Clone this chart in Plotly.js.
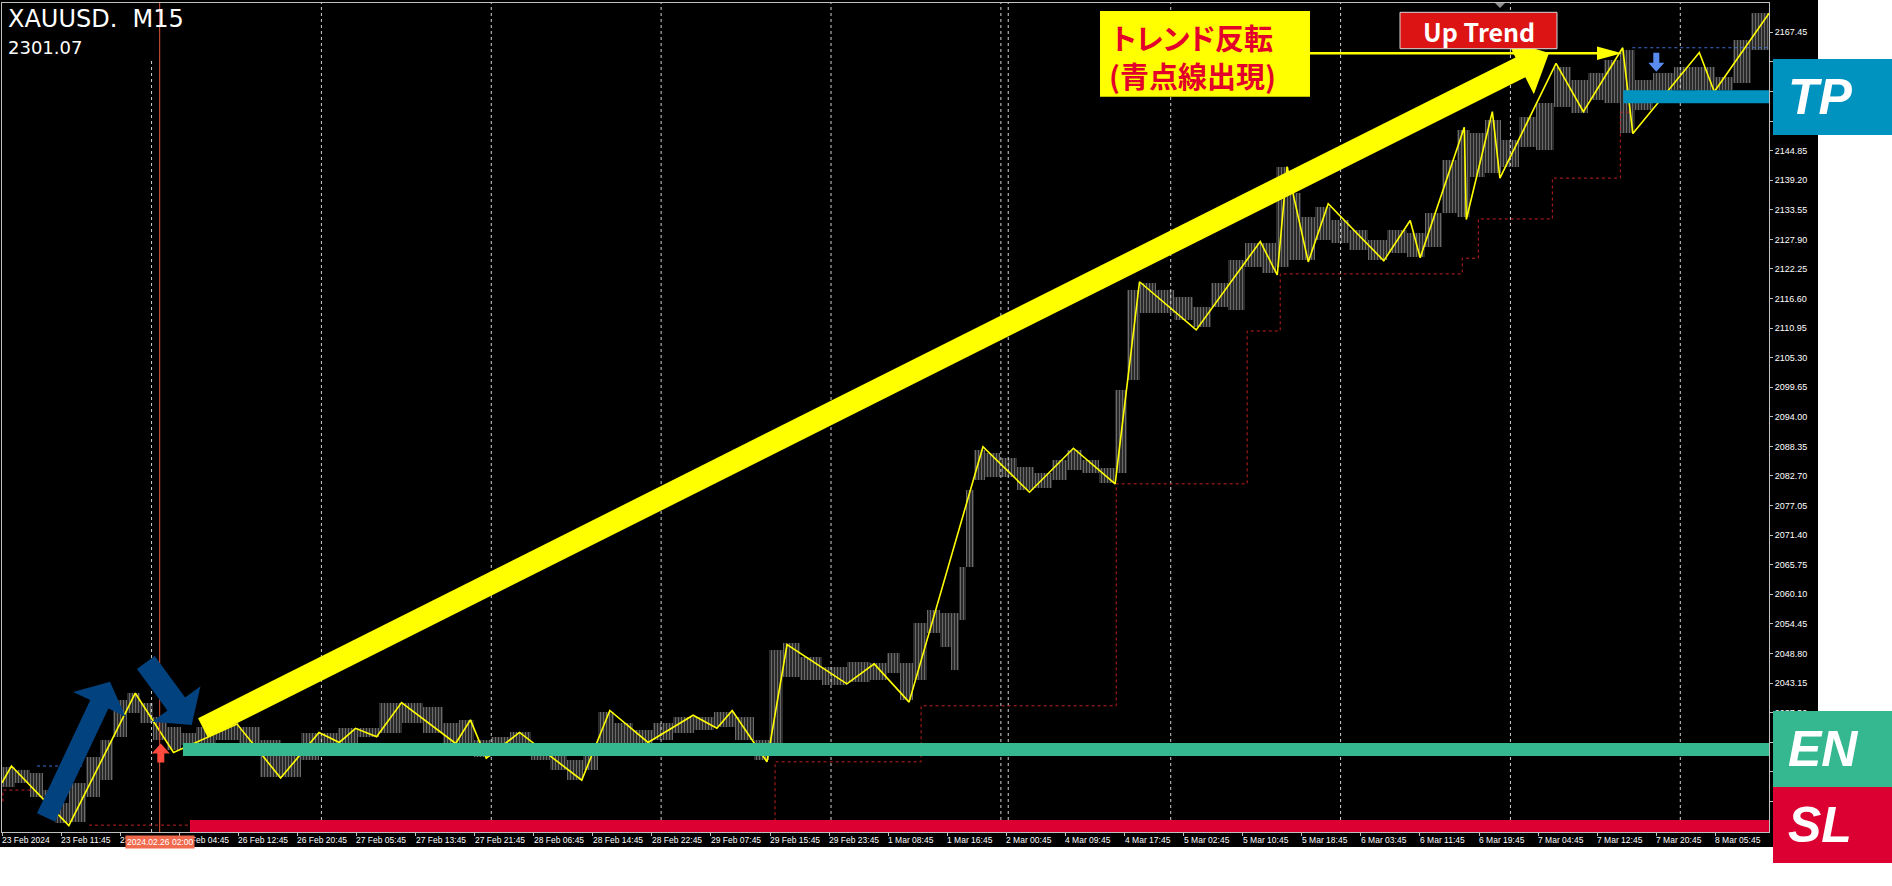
<!DOCTYPE html>
<html>
<head>
<meta charset="utf-8">
<script src="https://cdn.plot.ly/plotly-3.0.1.min.js"></script>
<style>
html,body{margin:0;padding:0;background:#ffffff;}
#chart{width:1892px;height:886px;}
.annotation-text{font-feature-settings:"palt";}
</style>
</head>
<body>
<div id="chart"></div>
<script>
// ---------------- DATA ----------------
const xTickBars = [0,32,64,96,128,160,192,224,256,288,320,352,384,416,448,480,512,544,576,608,640,672,704,736,768,800,832,864,896,928];
const xTickText = ['23 Feb 2024','23 Feb 11:45','23 Feb 19:45','26 Feb 04:45','26 Feb 12:45','26 Feb 20:45','27 Feb 05:45','27 Feb 13:45','27 Feb 21:45','28 Feb 06:45','28 Feb 14:45','28 Feb 22:45','29 Feb 07:45','29 Feb 15:45','29 Feb 23:45','1 Mar 08:45','1 Mar 16:45','2 Mar 00:45','4 Mar 09:45','4 Mar 17:45','5 Mar 02:45','5 Mar 10:45','5 Mar 18:45','6 Mar 03:45','6 Mar 11:45','6 Mar 19:45','7 Mar 04:45','7 Mar 12:45','7 Mar 20:45','8 Mar 05:45'];
const yTickVals = [2020.55,2026.20,2031.85,2037.50,2043.15,2048.80,2054.45,2060.10,2065.75,2071.40,2077.05,2082.70,2088.35,2094.00,2099.65,2105.30,2110.95,2116.60,2122.25,2127.90,2133.55,2139.20,2144.85,2150.50,2156.15,2161.80,2167.45];
const daySeparatorBars = [81,173,265,357,449,541,545,633,725,817,909];

// price bars (sampled high / low)
const priceBars = [2.7,11.1,19.2,25.2,32.2,40.9,49.6,56.6,63.9,71.2,78.3,85.6,92.9,100.5,109.7,121.9,134.3,145.4,156.6,166.8,177.1,187.4,198.0,210.5,222.6,233.7,243.5,251.6,260.0,269.8,280.9,292.0,301.5,310.4,318.8,326.4,336.1,347.2,358.1,369.2,380.3,391.4,402.5,412.0,419.0,427.1,437.7,450.4,464.8,475.6,482.9,490.0,497.3,504.6,511.6,516.5,520.3,524.4,528.7,536.0,545.2,554.2,563.9,573.1,580.4,589.4,598.9,606.2,612.4,620.3,629.7,640.0,650.3,659.5,668.7,678.0,686.6,693.7,700.2,707.2,715.3,724.5,734.8,745.1,755.7,766.3,775.5,784.7,791.7,798.8,807.4,816.6,826.4,835.6,845.1,854.3,863.2,872.4,880.6,888.7,899.3,912.0,923.3,932.6,942.0,952.3];
const priceHigh = [2027.1,2026.5,2026.0,2022.7,2020.2,2024.1,2029.0,2032.3,2039.9,2041.2,2039.3,2036.7,2034.8,2033.6,2034.8,2035.5,2034.8,2032.3,2030.9,2033.6,2033.6,2034.6,2034.6,2039.3,2039.3,2038.6,2035.5,2036.1,2032.3,2032.8,2033.8,2031.7,2029.8,2028.4,2031.7,2037.6,2035.5,2034.2,2035.5,2036.7,2036.7,2037.6,2036.7,2032.3,2049.5,2050.8,2048.1,2046.2,2047.2,2047.0,2048.9,2047.0,2054.6,2057.1,2056.5,2056.5,2065.3,2080.0,2087.7,2087.1,2086.1,2084.4,2083.3,2085.8,2087.7,2085.8,2084.2,2099.1,2118.2,2119.6,2118.2,2116.9,2115.0,2119.6,2124.0,2127.2,2127.2,2141.7,2136.8,2132.2,2134.1,2131.6,2129.7,2127.8,2129.7,2129.1,2132.9,2143.1,2148.8,2148.2,2150.7,2146.9,2151.3,2154.0,2160.8,2158.3,2159.7,2162.2,2164.1,2158.3,2159.7,2160.8,2160.8,2158.9,2166.0,2171.1];
const priceLow = [2023.3,2024.1,2021.4,2019.9,2016.4,2016.6,2021.4,2024.6,2032.8,2037.4,2035.5,2032.3,2030.4,2031.3,2030.9,2032.3,2031.3,2025.2,2025.2,2028.4,2031.3,2031.7,2032.8,2033.6,2035.5,2033.6,2031.7,2031.7,2029.0,2029.8,2030.9,2028.4,2026.5,2024.6,2026.5,2030.9,2030.9,2030.9,2032.3,2033.6,2034.2,2034.8,2032.3,2028.4,2030.9,2044.3,2043.7,2042.8,2043.3,2043.7,2045.1,2039.9,2043.7,2052.7,2050.0,2045.6,2055.2,2065.3,2081.9,2082.5,2082.5,2080.0,2080.4,2081.9,2083.8,2083.3,2081.4,2083.3,2101.0,2113.8,2113.8,2112.5,2111.2,2115.0,2114.4,2122.6,2121.5,2122.6,2124.0,2124.0,2127.8,2127.2,2125.9,2124.0,2125.3,2124.5,2126.4,2132.9,2132.2,2139.8,2140.6,2141.7,2145.5,2145.0,2153.2,2152.0,2154.5,2154.0,2148.2,2152.6,2155.9,2156.4,2155.9,2156.4,2157.8,2164.1];

// zigzag swing points
const zzBars = [0,5.1,21.7,36.2,72.2,92.9,127.3,150.9,171.7,182.7,191.5,202.9,216.4,245.7,253.7,262.3,280.3,314.0,329.2,349.9,374.3,387.2,395.5,414.3,425.2,457.6,472.4,491.3,531.3,556.5,580.3,602.9,616.1,646.8,681.5,690.7,696.0,707.5,718.3,748.4,762.7,768.1,792.0,793.1,807.2,811.3,841.7,856.5,877.8,883.3,919.3,927.4,957.1];
const zzPrices = [2024.1,2027.3,2021.2,2015.9,2041.2,2029.9,2035.3,2025.0,2033.7,2031.8,2034.5,2032.9,2039.4,2031.6,2036.1,2028.8,2033.7,2024.6,2037.9,2031.8,2037.0,2034.5,2037.9,2028.1,2050.5,2043.0,2046.8,2039.5,2088.3,2079.6,2088.0,2081.2,2119.8,2110.6,2127.5,2121.1,2141.8,2123.6,2134.7,2123.8,2131.5,2124.4,2149.3,2131.7,2152.3,2139.6,2161.5,2152.3,2164.5,2148.1,2163.6,2156.1,2171.1];

// trailing stop (red dotted steps)
const stopBars = [47.1,418.7,497.8,603.5,674.4,692.3,790.9,799.6,839.7,876.5,883.0];
const stopPrices = [2016.0,2028.1,2038.8,2081.2,2110.4,2121.3,2124.3,2131.8,2139.6,2152.2,2152.2];
const prevStopBars = [0.5,0.5,17.9];
const prevStopPrices = [2020.5,2022.7,2022.7];

// blue dotted swing-high levels
const blueLevelStart = [19.0,883.0];
const blueLevelEnd = [43.9,957.0];
const blueLevelPrice = [2027.3,2164.5];

// signal arrows
const signalBars = [86.0,896.0];
const signalPrices = [2031.6,2159.9];
const signalDirs = ['up','down'];

// trade levels
const levelNames = ['TP','EN','SL'];
const levelPrices = [2155.13,2030.45,2015.84];
const levelStartBars = [878.1,98.0,101.8];
const levelColors = ['#0093c0','#35b78f','#dc0032'];

const cursorBar = 85.4;
const cursorLabel = '2024.02.26 02:00';

// ---------------- HELPERS ----------------
const PL=2, PT=3, PW=1767, PH=829;
const pxp = x => (x-PL)/PW;
const pyp = y => 1-(y-PT)/PH;
function poly(pts){ return 'M' + pts.map(p=>pxp(p[0]).toFixed(5)+','+pyp(p[1]).toFixed(5)).join(' L') + ' Z'; }
function arrowPts(tx,ty,hx,hy,sw,hw,hl){
  const dx=hx-tx, dy=hy-ty, L=Math.hypot(dx,dy), ux=dx/L, uy=dy/L, nx=-uy, ny=ux;
  const bx=hx-ux*hl, by=hy-uy*hl;
  return [[tx+nx*sw,ty+ny*sw],[bx+nx*sw,by+ny*sw],[bx+nx*hw,by+ny*hw],[hx,hy],[bx-nx*hw,by-ny*hw],[bx-nx*sw,by-ny*sw],[tx-nx*sw,ty-ny*sw]];
}
const AXF = '"Liberation Sans", Arial, sans-serif';
const CJK = '"Noto Sans CJK JP", "Noto Sans", sans-serif';

// ---------------- TRACES ----------------
const bx=[], bw=[], bbase=[], bh=[];
for(let i=0;i<priceBars.length;i++){
  const prev = i>0 ? priceBars[i-1] : null;
  const next = i<priceBars.length-1 ? priceBars[i+1] : null;
  const l = prev===null ? priceBars[i]-(next-priceBars[i])/2 : (prev+priceBars[i])/2;
  const r = next===null ? priceBars[i]+(priceBars[i]-prev)/2 : (priceBars[i]+next)/2;
  bx.push((l+r)/2); bw.push(r-l); bbase.push(priceLow[i]); bh.push(priceHigh[i]-priceLow[i]);
}
const traces = [
  {type:'bar', x:bx, y:bh, base:bbase, width:bw, hoverinfo:'skip',
   marker:{color:'rgba(0,0,0,0)', line:{width:0},
     pattern:{shape:'|', fgcolor:'#d4d4d4', bgcolor:'rgba(0,0,0,0)', size:3, solidity:0.6, fillmode:'overlay'}}},
  {type:'scatter', mode:'lines', x:stopBars, y:stopPrices, line:{shape:'hv', color:'#c02020', width:1, dash:'dot'}, hoverinfo:'skip'},
  {type:'scatter', mode:'lines', x:prevStopBars, y:prevStopPrices, line:{color:'#c02020', width:1, dash:'dot'}, hoverinfo:'skip'}
];
for(let i=0;i<blueLevelPrice.length;i++){
  traces.push({type:'scatter', mode:'lines', x:[blueLevelStart[i],blueLevelEnd[i]], y:[blueLevelPrice[i],blueLevelPrice[i]],
    line:{color:'#3f6fd0', width:1, dash:'dot'}, hoverinfo:'skip'});
}
traces.push({type:'scatter', mode:'lines', x:zzBars, y:zzPrices, line:{color:'#ffff00', width:1.6}, hoverinfo:'skip'});

// ---------------- SHAPES ----------------
const shapes = [];
shapes.push({type:'rect', xref:'paper', yref:'paper', x0:pxp(0), x1:pxp(1818), y0:pyp(847), y1:pyp(0), fillcolor:'#000000', line:{width:0}, layer:'below'});
daySeparatorBars.forEach((b,i)=>{
  shapes.push({type:'line', xref:'x', yref:'paper', x0:b, x1:b, y0:0, y1: i===0 ? pyp(58) : 1, line:{color:'#d0d0d0', width:1, dash:'dot'}, layer:'below'});
});
shapes.push({type:'line', xref:'x', yref:'paper', x0:cursorBar, x1:cursorBar, y0:0, y1:1, line:{color:'#e0553a', width:1}, layer:'above'});
signalDirs.forEach((d,i)=>{
  const path = d==='up'
    ? 'M0,0 L9,-10 L3.5,-10 L3.5,-19 L-3.5,-19 L-3.5,-10 L-9,-10 Z'
    : 'M0,0 L-8,9 L-3,9 L-3,19 L3,19 L3,9 L8,9 Z';
  shapes.push({type:'path', xref:'x', yref:'y', xsizemode:'pixel', ysizemode:'pixel', xanchor:signalBars[i], yanchor:signalPrices[i],
    path:path, fillcolor: d==='up' ? '#ff4a3d' : '#5a8cf0', line:{width:0}, layer:'above'});
});
const lvlWidth = [13,13,12];
levelNames.forEach((n,i)=>{
  shapes.push({type:'line', xref:'x', yref:'y', x0:levelStartBars[i], x1:962, y0:levelPrices[i], y1:levelPrices[i], line:{color:levelColors[i], width:lvlWidth[i]}, layer:'above'});
});
const boxY = [[59,135],[711,787],[787,863]];
levelNames.forEach((n,i)=>{
  shapes.push({type:'rect', xref:'paper', yref:'paper', x0:pxp(1773), x1:pxp(1892), y0:pyp(boxY[i][1]), y1:pyp(boxY[i][0]), fillcolor:levelColors[i], line:{width:0}, layer:'above'});
});
shapes.push({type:'path', xref:'paper', yref:'paper', path:poly(arrowPts(203,728,1549,53,11,30,32)), fillcolor:'#ffff00', line:{width:0}, layer:'above'});
shapes.push({type:'path', xref:'paper', yref:'paper', path:poly(arrowPts(46,817.5,110,681.7,10,29,25)), fillcolor:'#01427f', line:{width:0}, layer:'above'});
shapes.push({type:'path', xref:'paper', yref:'paper', path:poly(arrowPts(145.8,662.5,191.7,725,11,30,26)), fillcolor:'#01427f', line:{width:0}, layer:'above'});
shapes.push({type:'rect', xref:'paper', yref:'paper', x0:pxp(1100), x1:pxp(1310), y0:pyp(96.7), y1:pyp(11), fillcolor:'#ffff00', line:{width:0}, layer:'above'});
shapes.push({type:'line', xref:'paper', yref:'paper', x0:pxp(1310), x1:pxp(1600), y0:pyp(53.3), y1:pyp(53.3), line:{color:'#ffff00', width:2.5}, layer:'above'});
shapes.push({type:'path', xref:'paper', yref:'paper', path:poly([[1597,46.5],[1622,53.3],[1597,60]]), fillcolor:'#ffff00', line:{width:0}, layer:'above'});
shapes.push({type:'rect', xref:'paper', yref:'paper', x0:pxp(1400), x1:pxp(1557), y0:pyp(48.7), y1:pyp(12.3), fillcolor:'#dc1414', line:{color:'#d8d8d8', width:1}, layer:'above'});
shapes.push({type:'path', xref:'paper', yref:'paper', path:poly([[1495,3],[1505,3],[1500,8]]), fillcolor:'#909090', line:{width:0}, layer:'above'});

// ---------------- ANNOTATIONS ----------------
const annotations = [];
xTickBars.forEach((b,i)=>{
  annotations.push({x:b, xref:'x', y:pyp(834), yref:'paper', xanchor:'left', yanchor:'top', showarrow:false, text:xTickText[i],
    font:{family:AXF, size:8.5, color:'#ffffff'}, borderpad:0, xshift:-1});
});
annotations.push({x:cursorBar, xref:'x', y:pyp(834.5), yref:'paper', xanchor:'center', yanchor:'top', showarrow:false, text:cursorLabel,
  font:{family:AXF, size:8.5, color:'#ffffff'}, bgcolor:'#f06a4e', borderpad:1});
annotations.push({x:pxp(6), xref:'paper', y:pyp(3), yref:'paper', xanchor:'left', yanchor:'top', showarrow:false, text:'XAUUSD.\u00a0\u00a0M15',
  font:{family:'"DejaVu Sans", sans-serif', size:24, color:'#ffffff'}});
annotations.push({x:pxp(6), xref:'paper', y:pyp(35), yref:'paper', xanchor:'left', yanchor:'top', showarrow:false, text:'2301.07',
  font:{family:'"DejaVu Sans", sans-serif', size:18, color:'#ffffff'}});
annotations.push({x:pxp(1192), xref:'paper', y:pyp(56), yref:'paper', xanchor:'center', yanchor:'middle', showarrow:false,
  text:'<b>トレンド反転</b><br><b>(青点線出現)</b>', font:{family:CJK, size:29, color:'#e3002b'}});
annotations.push({x:pxp(1478.5), xref:'paper', y:pyp(30.5), yref:'paper', xanchor:'center', yanchor:'middle', showarrow:false,
  text:'<b>Up Trend</b>', font:{family:CJK, size:25, color:'#ffffff'}});
const boxCenter = [97,749,825];
levelNames.forEach((n,i)=>{
  annotations.push({x:pxp(1786), xref:'paper', y:pyp(boxCenter[i]), yref:'paper', xanchor:'left', yanchor:'middle', showarrow:false,
    text:'<b><i>'+n+'</i></b>', font:{family:'"Liberation Sans", "Open Sans", sans-serif', size:50, color:'#ffffff'}});
});

const layout = {
  width:1892, height:886,
  margin:{l:PL, r:1892-PL-PW, t:PT, b:886-PT-PH, pad:0},
  paper_bgcolor:'#ffffff', plot_bgcolor:'#000000',
  showlegend:false, bargap:0,
  xaxis:{range:[0,957.04], tickvals:xTickBars, ticktext:xTickText, showticklabels:false, ticks:'outside', ticklen:3, tickcolor:'#c0c0c0',
    showgrid:false, zeroline:false, showline:true, linecolor:'#c0c0c0', linewidth:1, mirror:true, fixedrange:true},
  yaxis:{range:[2014.69,2173.05], side:'right', tickvals:yTickVals, tickformat:'.2f', ticks:'outside', ticklen:3, tickcolor:'#c0c0c0',
    tickfont:{family:AXF, size:9, color:'#ffffff'}, showgrid:false, zeroline:false, showline:true, linecolor:'#c0c0c0', linewidth:1, mirror:true, fixedrange:true},
  shapes:shapes, annotations:annotations
};
Plotly.newPlot('chart', traces, layout, {staticPlot:true, displayModeBar:false});
</script>
</body>
</html>
